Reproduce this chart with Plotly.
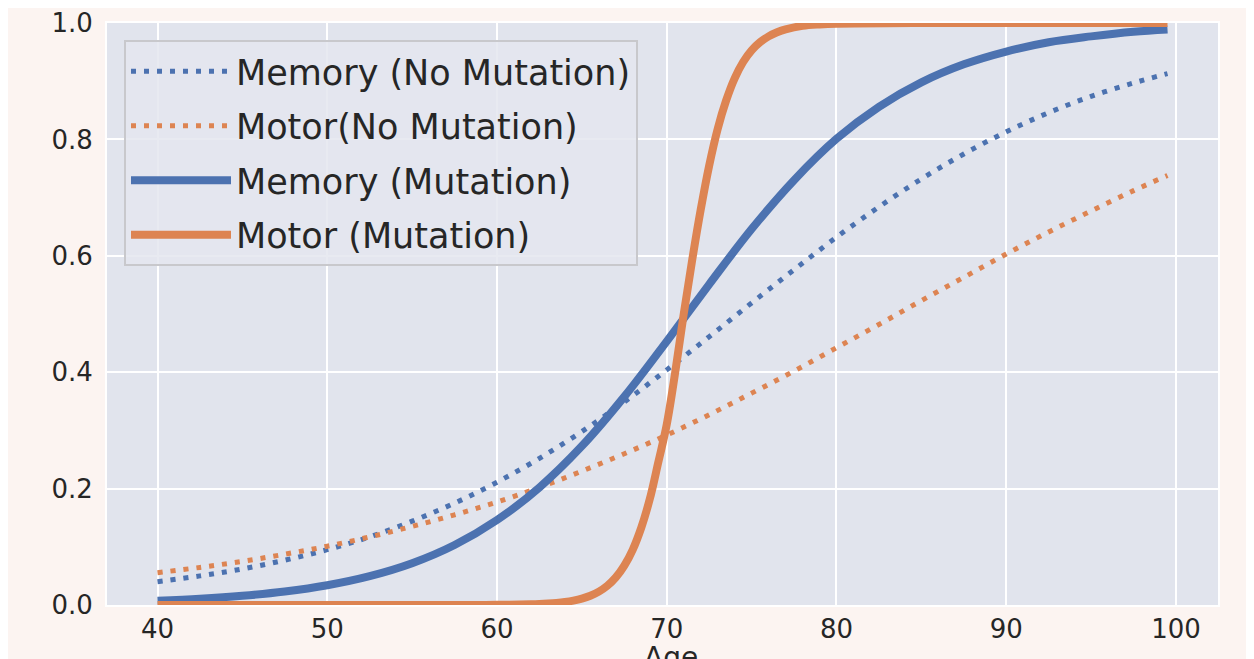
import plotly.graph_objects as go

# ---- data ----
age = [40, 42.5, 45, 47.5, 50, 52.5, 55, 57.5, 60, 62.5, 65, 67.5, 70, 72.5,
       75, 77.5, 80, 82.5, 85, 87.5, 90, 92.5, 95, 97.5, 99.5]

memory_no_mut = [0.040, 0.050, 0.062, 0.077, 0.095, 0.117, 0.144, 0.175, 0.211,
                 0.252, 0.298, 0.349, 0.404, 0.461, 0.519, 0.576, 0.632, 0.684,
                 0.732, 0.775, 0.813, 0.846, 0.874, 0.897, 0.913]

motor_no_mut = [0.0555, 0.0646, 0.075, 0.0873, 0.101, 0.117, 0.135, 0.155, 0.177,
                0.202, 0.230, 0.260, 0.292, 0.327, 0.364, 0.402, 0.442, 0.482,
                0.523, 0.563, 0.603, 0.641, 0.677, 0.712, 0.738]

memory_mut = [0.0072, 0.0106, 0.0157, 0.0231, 0.0339, 0.0495, 0.0717, 0.103, 0.146,
              0.202, 0.273, 0.358, 0.453, 0.551, 0.646, 0.730, 0.801, 0.856,
              0.898, 0.929, 0.951, 0.967, 0.977, 0.985, 0.989]

age_motor_mut = [40, 45, 50, 55, 58, 60, 62, 62.5, 63, 63.5, 64, 64.5, 65, 65.5,
                 66, 66.5, 67, 67.5, 68, 68.5, 69, 69.5, 70, 70.5, 71, 71.5, 72,
                 72.5, 73, 73.5, 74, 74.5, 75, 75.5, 76, 76.5, 77, 78, 79, 80,
                 85, 90, 95, 99.5]
motor_mut = [0.0, 0.0, 0.0, 0.0001, 0.0001, 0.0003, 0.0012, 0.0017, 0.0025, 0.0036,
             0.0052, 0.0076, 0.0110, 0.0159, 0.0230, 0.0331, 0.0474, 0.0676, 0.0953,
             0.133, 0.182, 0.245, 0.310, 0.400, 0.500, 0.593, 0.679, 0.755, 0.818,
             0.867, 0.905, 0.933, 0.953, 0.967, 0.977, 0.984, 0.989, 0.995, 0.9975,
             0.9988, 1.0, 1.0, 1.0, 1.0]

x_ticks = [40, 50, 60, 70, 80, 90, 100]
y_ticks = [0.0, 0.2, 0.4, 0.6, 0.8, 1.0]
y_tick_labels = ["0.0", "0.2", "0.4", "0.6", "0.8", "1.0"]
x_title = "Age"

BLUE = "#4c72b0"
ORANGE = "#dd8452"
FONT = "DejaVu Sans"

fig = go.Figure()
fig.add_trace(go.Scatter(x=age, y=memory_no_mut, mode="lines", name="Memory (No Mutation)",
                         legendgroup="a",
                         line=dict(color=BLUE, width=5, dash="5px,8px", shape="spline")))
fig.add_trace(go.Scatter(x=age, y=motor_no_mut, mode="lines", name="Motor(No Mutation)",
                         legendgroup="b",
                         line=dict(color=ORANGE, width=5, dash="5px,8px", shape="spline")))
fig.add_trace(go.Scatter(x=age, y=memory_mut, mode="lines", name="Memory (Mutation)",
                         legendgroup="c",
                         line=dict(color=BLUE, width=8, shape="spline")))
fig.add_trace(go.Scatter(x=age_motor_mut, y=motor_mut, mode="lines", name="Motor (Mutation)",
                         legendgroup="d",
                         line=dict(color=ORANGE, width=8, shape="spline")))

fig.update_layout(
    width=1254, height=659,
    margin=dict(l=99, r=44, t=15, b=62, autoexpand=False),
    paper_bgcolor="#fcf4f1",
    plot_bgcolor="#e1e4ed",
    font=dict(family=FONT, color="#262626", size=26),
    showlegend=True,
    legend=dict(
        x=0.0153, y=0.971, xanchor="left", yanchor="top",
        bgcolor="rgba(228,230,239,0.85)",
        bordercolor="#c8c8cc", borderwidth=2,
        font=dict(family=FONT, size=35, color="#262626"),
        tracegroupgap=6, itemwidth=100,
    ),
    annotations=[dict(
        text=x_title, xref="paper", yref="paper", x=0.508, y=-0.058,
        xanchor="center", yanchor="top", showarrow=False,
        font=dict(family=FONT, size=28, color="#262626"),
    )],
)
fig.update_xaxes(
    range=[37.025, 102.475], tickvals=x_ticks,
    showgrid=True, gridcolor="white", gridwidth=1.5,
    zeroline=False, showline=True, linecolor="white", linewidth=2, mirror=True,
    ticks="", ticklabelstandoff=0, automargin=False,
)
fig.update_yaxes(
    range=[0, 1], tickvals=y_ticks, ticktext=y_tick_labels,
    showgrid=True, gridcolor="white", gridwidth=1.5,
    zeroline=False, showline=True, linecolor="white", linewidth=2, mirror=True,
    ticks="", ticklabelstandoff=7, automargin=False,
)

fig.write_html("out.html")
